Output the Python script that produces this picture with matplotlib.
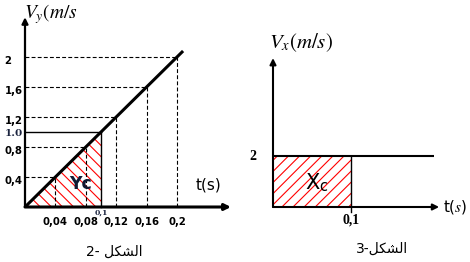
import matplotlib
matplotlib.use("Agg")
import matplotlib.pyplot as plt

plt.rcParams['mathtext.fontset'] = 'stix'
plt.rcParams['hatch.linewidth'] = 0.8

# ---- data (figure 2) ----
t_ticks = [0.04, 0.08, 0.12, 0.16, 0.2]
t_tick_labels = ["0,04", "0,08", "0,12", "0,16", "0,2"]
vy_ticks = [0.4, 0.8, 1.2, 1.6, 2.0]
vy_tick_labels = ["0,4", "0,8", "1,2", "1,6", "2"]
t_line = [0.0, 0.208]
vy_line = [0.0, 2.08]
t_c = 0.1
vy_c = 1.0
# ---- data (figure 3) ----
vx_value = 2.0
t_vx = [0.0, 0.206]
vx_line = [2.0, 2.0]

arabic_word = "\uFEDE\uFEDC\uFEB8\uFEDF\uFE8D"  # الشكل (visual order)

fig = plt.figure(figsize=(4.7, 2.62), dpi=100)
axL = fig.add_axes([0, 0, 0.5, 1])
axR = fig.add_axes([0.5, 0, 0.5, 1])
for ax in (axL, axR):
    ax.set_axis_off()

# ------------- left chart -------------
axL.set_xlim(-25 / 760, 210 / 760)
axL.set_ylim(-55 / 75, 207 / 75)

# hatched triangle
axL.fill([0, t_c, t_c], [0, vy_c, 0], facecolor='none', edgecolor='red',
         hatch='\\\\\\', linewidth=0)

# dashed guides
for t, v in zip(t_ticks, vy_ticks):
    axL.plot([0, t], [v, v], color='black', lw=0.8, dashes=(3.5, 2))
    axL.plot([t, t], [0, v], color='black', lw=0.8, dashes=(3.5, 2))
# solid guides at 0.1
axL.plot([0, t_c], [vy_c, vy_c], color='black', lw=1.0)
axL.plot([t_c, t_c], [0, vy_c], color='black', lw=1.0)

# main line
axL.plot(t_line, vy_line, color='black', lw=2.2, solid_capstyle='butt')

# axes arrows
axL.annotate('', xy=(0.271, 0), xytext=(0, 0),
             arrowprops=dict(arrowstyle='-|>', lw=2.2, color='black',
                             mutation_scale=9, shrinkA=0, shrinkB=0))
axL.annotate('', xy=(0, 2.53), xytext=(0, 0),
             arrowprops=dict(arrowstyle='-|>', lw=1.6, color='black',
                             mutation_scale=9, shrinkA=0, shrinkB=0))

# tick labels
for t, lab in zip(t_ticks, t_tick_labels):
    axL.text(t, -0.2, lab, ha='center', va='center', fontsize=7.3,
             fontweight='bold', family='DejaVu Sans')
for v, lab in zip(vy_ticks, vy_tick_labels):
    axL.text(-0.027, v - 0.06, lab, ha='left', va='center', fontsize=7.3,
             fontweight='bold', family='DejaVu Sans')
axL.text(-0.027, vy_c - 0.02, "1.0", ha='left', va='center', fontsize=7.5,
         fontweight='bold', family='DejaVu Serif', color='#1c2540')
axL.text(t_c, -0.07, "0,1", ha='center', va='center', fontsize=5.5,
         fontweight='bold', family='DejaVu Serif', color='#1c2540')

axL.text(0.073, 0.31, "Yc", ha='center', va='center', fontsize=12.5,
         fontweight='bold', family='DejaVu Sans', color='#111a33')
axL.text(0.241, 0.29, "t(s)", ha='center', va='center', fontsize=11,
         family='DejaVu Sans')
axL.text(-0.001, 2.735, r"$V_y(m/s$", ha='left', va='top', fontsize=14)
axL.text(0.118, -0.6, "2- " + arabic_word, ha='center', va='center',
         fontsize=10, family='DejaVu Sans')

# ------------- right chart -------------
axR.set_xlim(-38 / 780, 197 / 780)
axR.set_ylim(-55 / 25.5, 207 / 25.5)

axR.fill([0, 0, t_c, t_c], [0, vx_value, vx_value, 0], facecolor='none',
         edgecolor='red', hatch='///', linewidth=0)
axR.plot(t_vx, vx_line, color='black', lw=1.5, solid_capstyle='butt')
axR.plot([t_c, t_c], [-0.2, vx_value], color='black', lw=1.0)

axR.annotate('', xy=(0.213, 0), xytext=(0, 0),
             arrowprops=dict(arrowstyle='-|>', lw=1.5, color='black',
                             mutation_scale=9, shrinkA=0, shrinkB=0))
axR.annotate('', xy=(0, 5.84), xytext=(0, 0),
             arrowprops=dict(arrowstyle='-|>', lw=1.5, color='black',
                             mutation_scale=9, shrinkA=0, shrinkB=0))

axR.text(-0.0256, vx_value, "2", ha='center', va='center', fontsize=10,
         fontweight='bold', family='Liberation Serif')
axR.text(t_c, -0.51, "0,1", ha='center', va='center', fontsize=10,
         fontweight='bold', family='Liberation Serif')
axR.text(0.056, 0.95, r"X$_\mathregular{c}$", ha='center', va='center',
         fontsize=15, family='DejaVu Sans', color='black')
axR.text(0.233, 0.0, r"t($s$)", ha='center', va='center', fontsize=11,
         family='DejaVu Sans')
axR.text(-0.005, 6.43, r"$V_x(m/s)$", ha='left', va='center', fontsize=15)
axR.text(0.14, -1.65, "3-" + arabic_word, ha='center', va='center',
         fontsize=10, family='DejaVu Sans')

fig.savefig("out.png", dpi=100)
